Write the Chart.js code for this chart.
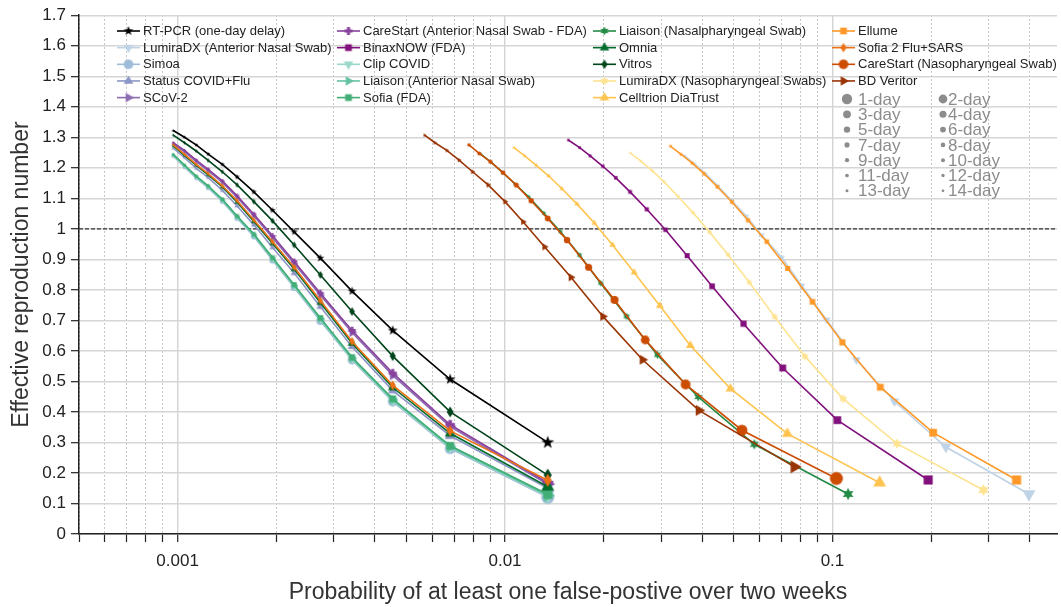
<!DOCTYPE html>
<html>
<head>
<meta charset="utf-8">
<title>Effective reproduction number vs false-positive probability</title>
<script src="https://cdn.jsdelivr.net/npm/chart.js@4/dist/chart.umd.min.js"></script>
<style>
    html, body { margin: 0; padding: 0; background: #fff; overflow: hidden; }
</style>
</head>
<body>
<canvas id="myChart" width="1061" height="607"></canvas>
<script>
// testing interval, 1 to 14 days (index 0 = test every day)
const intervals = ['1-day', '2-day', '3-day', '4-day', '5-day', '6-day', '7-day',
    '8-day', '9-day', '10-day', '11-day', '12-day', '13-day', '14-day'];

const names = [
    'RT-PCR (one-day delay)', 'LumiraDX (Anterior Nasal Swab)', 'Simoa', 'Status COVID+Flu', 'SCoV-2',
    'CareStart (Anterior Nasal Swab - FDA)', 'BinaxNOW (FDA)', 'Clip COVID', 'Liaison (Anterior Nasal Swab)', 'Sofia (FDA)',
    'Liaison (Nasalpharyngeal Swab)', 'Omnia', 'Vitros', 'LumiraDX (Nasopharyngeal Swabs)', 'Celltrion DiaTrust',
    'Ellume', 'Sofia 2 Flu+SARS', 'CareStart (Nasopharyngeal Swab)', 'BD Veritor'
];

const xTitle = 'Probability of at least one false-postive over two weeks';
const yTitle = 'Effective reproduction number';
const xTickValues = [0.001, 0.01, 0.1];
const xTickLabels = ['0.001', '0.01', '0.1'];
const yTickLabels = ['0', '0.1', '0.2', '0.3', '0.4', '0.5', '0.6', '0.7', '0.8', '0.9',
    '1', '1.1', '1.2', '1.3', '1.4', '1.5', '1.6', '1.7'];
const threshold = 1;

// x shared by RT-PCR and the tests on the left
const xCommon = [0.0135, 0.0068, 0.00454, 0.00341, 0.00273, 0.00227, 0.00195, 0.00171, 0.00152, 0.00137, 0.00124, 0.00114, 0.00105, 0.00097];
const yRtPcr = [0.300, 0.507, 0.667, 0.796, 0.904, 0.990, 1.061, 1.121, 1.170, 1.211, 1.245, 1.275, 1.300, 1.322];
const yVitros = [0.193, 0.400, 0.583, 0.729, 0.849, 0.947, 1.026, 1.089, 1.144, 1.187, 1.224, 1.255, 1.282, 1.307];
const yCareStartAns = [0.168, 0.358, 0.527, 0.667, 0.789, 0.893, 0.977, 1.048, 1.108, 1.157, 1.195, 1.225, 1.257, 1.282];
const yScov2 = [0.163, 0.352, 0.520, 0.660, 0.782, 0.886, 0.971, 1.042, 1.103, 1.152, 1.190, 1.220, 1.252, 1.278];
const ySofia2 = [0.176, 0.338, 0.487, 0.631, 0.765, 0.874, 0.958, 1.029, 1.092, 1.141, 1.181, 1.211, 1.244, 1.275];
const yOmnia = [0.155, 0.330, 0.480, 0.625, 0.758, 0.868, 0.952, 1.024, 1.087, 1.137, 1.177, 1.208, 1.241, 1.272];
const yStatus = [0.150, 0.322, 0.470, 0.614, 0.745, 0.855, 0.939, 1.013, 1.075, 1.126, 1.168, 1.198, 1.233, 1.264];
const ySofiaFda = [0.130, 0.289, 0.443, 0.579, 0.708, 0.817, 0.906, 0.983, 1.042, 1.097, 1.141, 1.173, 1.209, 1.244];
const yLiaisonAns = [0.126, 0.286, 0.440, 0.576, 0.705, 0.814, 0.903, 0.980, 1.040, 1.095, 1.139, 1.171, 1.207, 1.242];
const yClip = [0.123, 0.283, 0.437, 0.573, 0.702, 0.811, 0.900, 0.978, 1.038, 1.093, 1.137, 1.169, 1.205, 1.240];
const ySimoa = [0.120, 0.280, 0.434, 0.570, 0.698, 0.808, 0.897, 0.975, 1.035, 1.090, 1.134, 1.166, 1.202, 1.238];

const xBdVeritor = [0.0765, 0.0391, 0.0263, 0.0199, 0.0159, 0.0132, 0.01135, 0.0100, 0.00888, 0.00796, 0.00724, 0.00664, 0.00611, 0.00568];
const yBdVeritor = [0.220, 0.405, 0.571, 0.713, 0.841, 0.941, 1.023, 1.089, 1.144, 1.187, 1.225, 1.257, 1.282, 1.307];

const xCareStartNp = [0.1028, 0.0529, 0.0356, 0.0268, 0.0216, 0.0180, 0.01547, 0.0135, 0.01202, 0.01083, 0.00986, 0.00902, 0.00834, 0.00776];
const yCareStartNp = [0.182, 0.340, 0.490, 0.636, 0.767, 0.874, 0.963, 1.034, 1.092, 1.143, 1.184, 1.220, 1.247, 1.275];

const xLiaisonNp = [0.1116, 0.0577, 0.0389, 0.0292, 0.0235, 0.0196, 0.01688, 0.01477, 0.01314, 0.0118, 0.01073, 0.00983, 0.00908, 0.00843];
const yLiaisonNp = [0.131, 0.294, 0.449, 0.587, 0.713, 0.822, 0.914, 0.990, 1.051, 1.105, 1.147, 1.185, 1.218, 1.245];

const xCelltrion = [0.1393, 0.0728, 0.0488, 0.0368, 0.0297, 0.0248, 0.0213, 0.01874, 0.0166, 0.0149, 0.0136, 0.01246, 0.01148, 0.01065];
const yCelltrion = [0.168, 0.329, 0.476, 0.618, 0.748, 0.857, 0.947, 1.019, 1.081, 1.132, 1.173, 1.208, 1.239, 1.266];

const xBinax = [0.196, 0.1035, 0.0705, 0.0535, 0.0429, 0.0360, 0.0309, 0.0271, 0.0241, 0.0218, 0.0199, 0.0182, 0.0169, 0.0156];
const yBinax = [0.177, 0.373, 0.544, 0.689, 0.812, 0.912, 0.997, 1.064, 1.121, 1.167, 1.205, 1.239, 1.266, 1.291];

const xLumiraNp = [0.289, 0.1574, 0.1078, 0.0824, 0.0666, 0.0557, 0.0480, 0.0421, 0.0375, 0.0337, 0.0306, 0.0282, 0.0260, 0.0241];
const yLumiraNp = [0.144, 0.296, 0.443, 0.582, 0.712, 0.825, 0.915, 0.990, 1.053, 1.107, 1.154, 1.190, 1.222, 1.249];

const xEllume = [0.365, 0.203, 0.140, 0.1072, 0.0869, 0.0730, 0.0630, 0.0552, 0.0493, 0.0445, 0.0405, 0.0373, 0.0345, 0.0320];
const yEllume = [0.177, 0.332, 0.481, 0.628, 0.761, 0.870, 0.958, 1.028, 1.088, 1.138, 1.181, 1.215, 1.244, 1.271];

const xLumiraAns = [0.398, 0.222, 0.1546, 0.1183, 0.0959, 0.0805, 0.0700, 0.0608, 0.0545, 0.0490, 0.0447, 0.0410, 0.0380, 0.0353];
const yLumiraAns = [0.131, 0.285, 0.435, 0.571, 0.702, 0.814, 0.906, 0.979, 1.042, 1.095, 1.140, 1.180, 1.212, 1.240];

// style per series, same order as names
const series = [
    { x: xCommon, y: yRtPcr, color: '#000000', shape: 'star5' },
    { x: xLumiraAns, y: yLumiraAns, color: '#bfd3e6', shape: 'triDown' },
    { x: xCommon, y: ySimoa, color: '#9ebcda', shape: 'circle' },
    { x: xCommon, y: yStatus, color: '#8c96c6', shape: 'triUp' },
    { x: xCommon, y: yScov2, color: '#8c6bb1', shape: 'triRight' },
    { x: xCommon, y: yCareStartAns, color: '#88419d', shape: 'plus' },
    { x: xBinax, y: yBinax, color: '#810f7c', shape: 'square' },
    { x: xCommon, y: yClip, color: '#99d8c9', shape: 'triDown' },
    { x: xCommon, y: yLiaisonAns, color: '#66c2a4', shape: 'triRight' },
    { x: xCommon, y: ySofiaFda, color: '#41ae76', shape: 'square' },
    { x: xLiaisonNp, y: yLiaisonNp, color: '#238b45', shape: 'star6' },
    { x: xCommon, y: yOmnia, color: '#006d2c', shape: 'triUp' },
    { x: xCommon, y: yVitros, color: '#00441b', shape: 'diamond' },
    { x: xLumiraNp, y: yLumiraNp, color: '#fee391', shape: 'star6' },
    { x: xCelltrion, y: yCelltrion, color: '#fec44f', shape: 'triUp' },
    { x: xEllume, y: yEllume, color: '#fe9929', shape: 'square' },
    { x: xCommon, y: ySofia2, color: '#ec7014', shape: 'diamond' },
    { x: xCareStartNp, y: yCareStartNp, color: '#cc4c02', shape: 'circle' },
    { x: xBdVeritor, y: yBdVeritor, color: '#993404', shape: 'triRight' }
];

// marker radius per testing interval
const markerR = [6.5, 5.5, 4.9, 4.4, 4.0, 3.6, 3.2, 2.9, 2.7, 2.5, 2.3, 2.1, 1.9, 1.7];

const FONT = '"Liberation Sans", Arial, Helvetica, sans-serif';
Chart.defaults.font.family = FONT;
Chart.defaults.color = '#222';

const markerCache = {};

function poly(g, pts) {
    pts.forEach(function (p, i) {
        if (i) g.lineTo(p[0], p[1]); else g.moveTo(p[0], p[1]);
    });
}

function starPts(n, ro, ri) {
    const pts = [];
    for (let i = 0; i < 2 * n; i++) {
        const a = i * Math.PI / n;
        const rr = i % 2 ? ri : ro;
        pts.push([rr * Math.sin(a), -rr * Math.cos(a)]);
    }
    return pts;
}

function shapePath(g, shape, r) {
    const c30 = Math.cos(Math.PI / 6);
    const t = r * 1.15;
    switch (shape) {
        case 'circle': g.arc(0, 0, r, 0, 2 * Math.PI); break;
        case 'square': g.rect(-r * 0.7, -r * 0.7, r * 1.4, r * 1.4); break;
        case 'triUp': poly(g, [[0, -t], [t * c30, t / 2], [-t * c30, t / 2]]); break;
        case 'triDown': poly(g, [[0, t], [t * c30, -t / 2], [-t * c30, -t / 2]]); break;
        case 'triRight': poly(g, [[t, 0], [-t / 2, t * c30], [-t / 2, -t * c30]]); break;
        case 'diamond': poly(g, [[0, -r], [r * 0.62, 0], [0, r], [-r * 0.62, 0]]); break;
        case 'star5': poly(g, starPts(5, r * 1.05, r * 0.42)); break;
        case 'star6': poly(g, starPts(6, r * 0.95, r * 0.5)); break;
        case 'plus': {
            const a = r * 0.85, w = r * 0.32;
            poly(g, [[-w, -a], [w, -a], [w, -w], [a, -w], [a, w], [w, w], [w, a], [-w, a], [-w, w], [-a, w], [-a, -w], [-w, -w]]);
            break;
        }
    }
}

function marker(shape, color, r) {
    const key = shape + color + r;
    if (markerCache[key]) return markerCache[key];
    const size = Math.ceil(r * 2.4 + 4);
    const c = document.createElement('canvas');
    c.width = size;
    c.height = size;
    const g = c.getContext('2d');
    g.translate(size / 2, size / 2);
    g.fillStyle = color;
    g.beginPath();
    shapePath(g, shape, r);
    g.closePath();
    g.fill();
    markerCache[key] = c;
    return c;
}

function isDecade(v) {
    return xTickValues.some(function (t) { return Math.abs(v / t - 1) < 1e-6; });
}

// minor grid positions 2..9 x 10^e plus the decades
const xGridValues = [];
[0.0001, 0.001, 0.01, 0.1].forEach(function (d) {
    for (let m = 1; m <= 9; m++) {
        const v = +(m * d).toPrecision(3);
        if (v >= 0.0005 && v <= 0.45) xGridValues.push(v);
    }
});

const datasets = series.map(function (s, i) {
    return {
        label: names[i],
        data: s.x.map(function (x, k) { return { x: x, y: s.y[k] }; }),
        borderColor: s.color,
        backgroundColor: s.color,
        borderWidth: 1.6,
        tension: 0,
        fill: false,
        pointRadius: 3,
        pointBorderWidth: 0,
        pointStyle: function (ctx) {
            const r = markerR[ctx.dataIndex] || 3;
            return marker(s.shape, s.color, r);
        },
        order: series.length - i
    };
});

datasets.push({
    label: 'threshold',
    data: [{ x: 0.0005, y: threshold }, { x: 0.485, y: threshold }],
    borderColor: '#333',
    borderWidth: 1.2,
    borderDash: [4, 2],
    pointRadius: 0,
    order: 100
});

const legendPlugin = {
    id: 'inlineLegend',
    afterDraw: function (chart) {
        const g = chart.ctx;
        const cols = [117, 337, 593, 832];
        g.save();
        g.textBaseline = 'middle';
        g.textAlign = 'left';
        g.font = '13px ' + FONT;
        names.forEach(function (name, i) {
            const s = series[i];
            const x0 = cols[Math.floor(i / 5)];
            const y = 31 + (i % 5) * 16.65;
            g.strokeStyle = s.color;
            g.lineWidth = 1.6;
            g.beginPath();
            g.moveTo(x0, y);
            g.lineTo(x0 + 23, y);
            g.stroke();
            const m = marker(s.shape, s.color, 4.8);
            g.drawImage(m, x0 + 11.5 - m.width / 2, y - m.height / 2);
            g.fillStyle = '#222';
            g.fillText(name, x0 + 26, y + 0.5);
        });
        // marker size key
        g.font = '17px ' + FONT;
        intervals.forEach(function (lab, k) {
            const right = k % 2 === 1;
            const y = 99 + Math.floor(k / 2) * 15.3;
            const cx = right ? 943 : 847;
            g.fillStyle = '#8c8c8c';
            g.beginPath();
            g.arc(cx, y, markerR[k] * 0.8, 0, 2 * Math.PI);
            g.fill();
            g.fillText(lab, right ? 948 : 858, y + 1);
        });
        g.restore();
    }
};

const ctx = document.getElementById('myChart').getContext('2d');
const myChart = new Chart(ctx, {
    type: 'line',
    data: { datasets: datasets },
    options: {
        responsive: false,
        animation: false,
        events: [],
        layout: { padding: { top: 14, right: 0, bottom: 0, left: 0 } },
        plugins: {
            legend: { display: false },
            tooltip: { enabled: false }
        },
        scales: {
            x: {
                type: 'logarithmic',
                min: 0.0005,
                max: 0.485,
                afterBuildTicks: function (sc) {
                    sc.ticks = xGridValues.map(function (v) { return { value: v }; });
                },
                afterFit: function (sc) { sc.height = 73; },
                ticks: {
                    autoSkip: false,
                    maxRotation: 0,
                    padding: 9,
                    color: '#222',
                    font: { size: 17 },
                    callback: function (v) {
                        const k = xTickValues.findIndex(function (t) { return Math.abs(v / t - 1) < 1e-6; });
                        return k >= 0 ? xTickLabels[k] : '';
                    }
                },
                grid: {
                    color: function (c) { return c.tick && isDecade(c.tick.value) ? '#d3d3d3' : '#b4b4b4'; },
                    lineWidth: function (c) { return c.tick && isDecade(c.tick.value) ? 1.4 : 1; },
                    tickColor: '#222',
                    tickLength: 8,
                    tickWidth: 1.2
                },
                border: {
                    color: '#222',
                    width: 1.5,
                    dash: function (c) { return c.tick && !isDecade(c.tick.value) ? [1.5, 2.5] : []; }
                },
                title: {
                    display: true,
                    text: xTitle,
                    color: '#333',
                    font: { size: 23 },
                    padding: { top: 0, bottom: 1 }
                }
            },
            y: {
                min: 0,
                max: 1.7,
                afterBuildTicks: function (sc) {
                    sc.ticks = yTickLabels.map(function (l) { return { value: parseFloat(l) }; });
                },
                afterFit: function (sc) { sc.width = 79; },
                ticks: {
                    autoSkip: false,
                    padding: 5,
                    color: '#222',
                    font: { size: 17 },
                    callback: function (v) { return String(+v.toFixed(1)); }
                },
                grid: {
                    color: '#d6d6d6',
                    lineWidth: 1.4,
                    tickColor: '#222',
                    tickLength: 8,
                    tickWidth: 1.2
                },
                border: { color: '#222', width: 1.5 },
                title: {
                    display: true,
                    text: yTitle,
                    color: '#333',
                    font: { size: 23 },
                    padding: { top: 8, bottom: 0 }
                }
            }
        }
    },
    plugins: [legendPlugin]
});
</script>
</body>
</html>
